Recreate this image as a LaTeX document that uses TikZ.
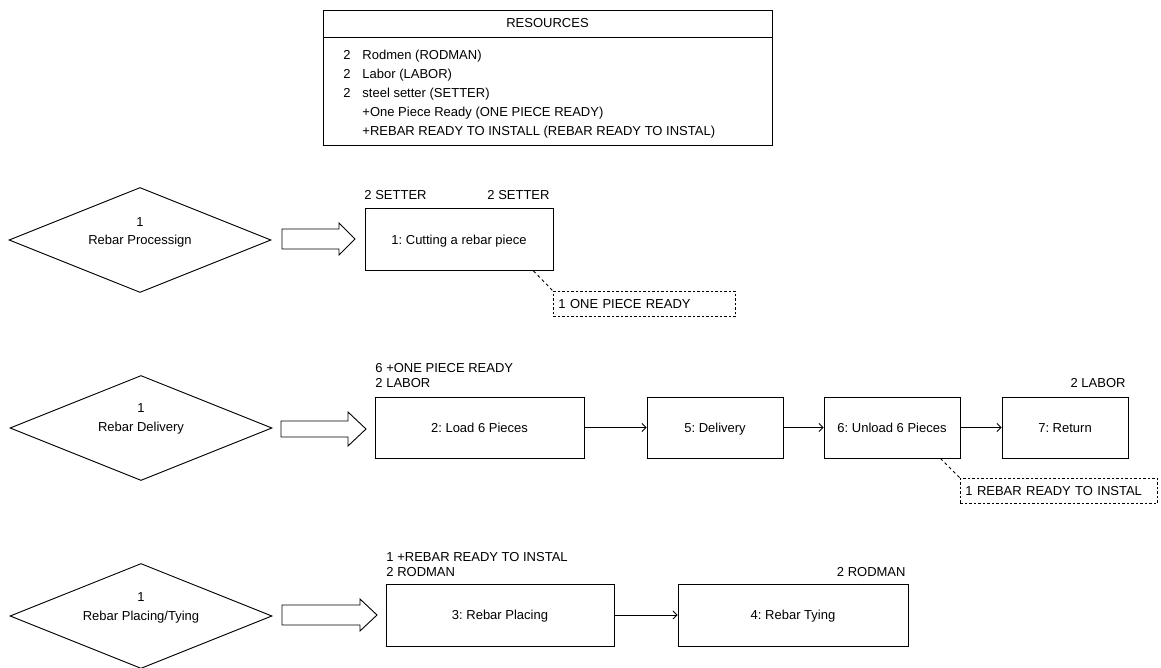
\documentclass[tikz,border=0pt]{standalone}
\usepackage{fontspec}
\setmainfont{Liberation Sans}
\usetikzlibrary{arrows.meta,calc,shapes.geometric}
\frenchspacing
\begin{document}
\begin{tikzpicture}[x=1pt,y=-1pt,
  font=\fontsize{13}{15}\selectfont, line width=0.9pt,
  every node/.style={inner sep=0pt, text height=9.4pt, text depth=0pt},
  proc/.style={draw, rectangle, minimum height=62pt},
  dia/.style={draw, diamond, aspect=2.5, minimum width=262pt, minimum height=105pt},
  res/.style={draw, dash pattern=on 2.5pt off 2pt, text width=#1, align=left, inner xsep=5pt, inner ysep=8pt},
  flow/.style={-{Straight Barb[length=4pt,width=8pt]}},
  dline/.style={dash pattern=on 3pt off 3pt},
  lbl/.style={anchor=west},
  rlbl/.style={anchor=east}]
\useasboundingbox (0,0) rectangle (1161,668);

% resources table
\node[draw, minimum width=449pt, minimum height=135pt, anchor=north west] (resbox) at (323,10) {};
\draw ($(resbox.north west)+(0,27)$) -- ($(resbox.north east)+(0,27)$);
\node (reshead) at (547.5,23) {RESOURCES};
\node (n1) at (347,55) {2}; \node[lbl] (t1) at (362,55) {Rodmen (RODMAN)};
\node (n2) at (347,74) {2}; \node[lbl] (t2) at (362,74) {Labor (LABOR)};
\node (n3) at (347,93) {2}; \node[lbl] (t3) at (362,93) {steel setter (SETTER)};
\node[lbl] (t4) at (362,112) {+One Piece Ready (ONE PIECE READY)};
\node[lbl] (t5) at (362,131) {+REBAR READY TO INSTALL (REBAR READY TO INSTAL)};

% row 1
\node[dia] (d1) at (140,240) {};
\node (d1n) at (140,222) {1};
\node (d1t) at (140,240) {Rebar Processign};
\draw (282,229) -- (339,229) -- (339,223) -- (355,239) -- (339,255) -- (339,249) -- (282,249) -- cycle;
\node[proc, minimum width=188pt] (b1) at (459,239.5) {1: Cutting a rebar piece};
\node[lbl] (b1l) at (364,195) {2 SETTER};
\node[rlbl] (b1r) at (550,195) {2 SETTER};
\node[res=172pt, anchor=north west] (r1) at (553,291) {1 ONE PIECE READY};
\draw[dline] ($(b1.south east)+(-20,0)$) -- (r1.north west);

% row 2
\node[dia] (d2) at (141,428) {};
\node (d2n) at (141,408) {1};
\node (d2t) at (141,427) {Rebar Delivery};
\draw (281,421) -- (348,421) -- (348,412) -- (366,429) -- (348,446) -- (348,437) -- (281,437) -- cycle;
\node[proc, minimum width=209pt, minimum height=61pt] (b2) at (479.5,427.5) {2: Load 6 Pieces};
\node[proc, minimum width=136pt, minimum height=61pt] (b5) at (715,427.5) {5: Delivery};
\node[proc, minimum width=136pt, minimum height=61pt] (b6) at (892,427.5) {6: Unload 6 Pieces};
\node[proc, minimum width=126pt, minimum height=61pt] (b7) at (1065,427.5) {7: Return};
\node[lbl] (b2l1) at (375,368) {6 +ONE PIECE READY};
\node[lbl] (b2l2) at (375,383) {2 LABOR};
\node[rlbl] (b7r) at (1126,383) {2 LABOR};
\draw[flow] (b2) -- (b5);
\draw[flow] (b5) -- (b6);
\draw[flow] (b6) -- (b7);
\node[res=187pt, anchor=north west] (r2) at (960,478) {1 REBAR READY TO INSTAL};
\draw[dline] ($(b6.south east)+(-20,0)$) -- (r2.north west);

% row 3
\node[dia] (d3) at (141,616) {};
\node (d3n) at (141,597) {1};
\node (d3t) at (141,616) {Rebar Placing/Tying};
\draw (282,605) -- (360,605) -- (360,599) -- (377,615) -- (360,631) -- (360,625) -- (282,625) -- cycle;
\node[proc, minimum width=228pt] (b3) at (500,615) {3: Rebar Placing};
\node[proc, minimum width=230pt] (b4) at (793,615) {4: Rebar Tying};
\node[lbl] (b3l1) at (386,557) {1 +REBAR READY TO INSTAL};
\node[lbl] (b3l2) at (386,572) {2 RODMAN};
\node[rlbl] (b4r) at (906,572) {2 RODMAN};
\draw[flow] (b3) -- (b4);
\end{tikzpicture}
\end{document}
